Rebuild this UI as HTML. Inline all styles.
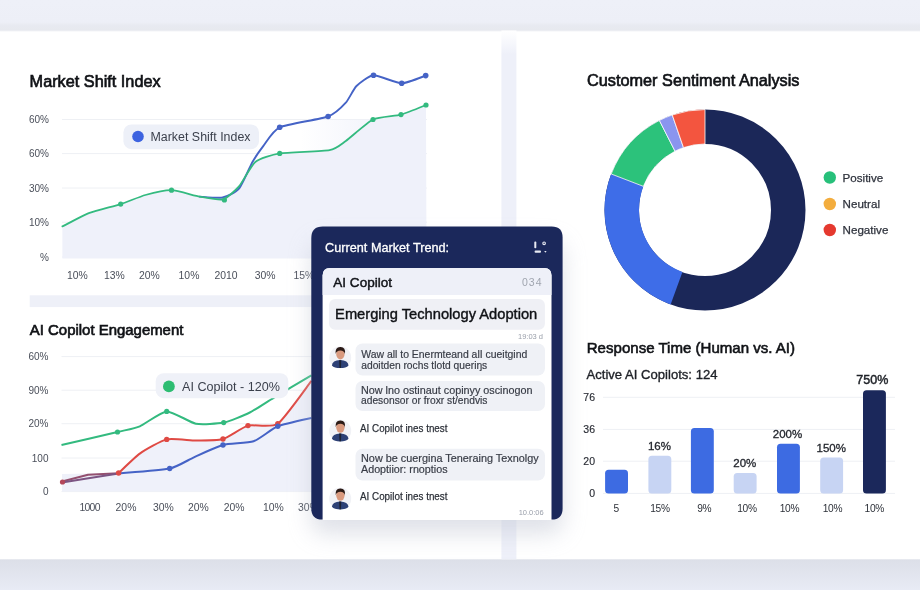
<!DOCTYPE html>
<html><head><meta charset="utf-8"><title>Dashboard</title>
<style>html,body{margin:0;padding:0;background:#fff;width:920px;height:590px;overflow:hidden}svg{display:block}</style>
</head><body>
<svg width="920" height="590" viewBox="0 0 920 590" font-family='"Liberation Sans", Arial, sans-serif'>
<defs><linearGradient id="shadow" x1="0" y1="0" x2="0" y2="1"><stop offset="0" stop-color="#dfe2ea" stop-opacity="0.9"/><stop offset="1" stop-color="#dfe2ea" stop-opacity="0"/></linearGradient><filter id="cardsh" x="-20%" y="-20%" width="140%" height="140%"><feGaussianBlur stdDeviation="11"/></filter></defs>
<rect width="920" height="590" fill="#ffffff"/>
<linearGradient id="topg" x1="0" y1="0" x2="0" y2="1"><stop offset="0" stop-color="#eef0f8"/><stop offset="0.7" stop-color="#edeff7"/><stop offset="0.8" stop-color="#e8eaf1"/><stop offset="0.95" stop-color="#e7e9ef"/><stop offset="1" stop-color="#f3f4f7"/></linearGradient>
<linearGradient id="botg" x1="0" y1="0" x2="0" y2="1"><stop offset="0" stop-color="#dcdfe8"/><stop offset="1" stop-color="#e8ebf5"/></linearGradient>
<linearGradient id="divg" x1="0" y1="0" x2="0" y2="1"><stop offset="0" stop-color="#ffffff"/><stop offset="0.045" stop-color="#eef0f9"/><stop offset="1" stop-color="#eef0f9"/></linearGradient>
<rect x="0" y="0" width="920" height="31.5" fill="url(#topg)"/>
<rect x="0" y="559.3" width="920" height="30.700000000000045" fill="url(#botg)"/>
<rect x="501.4" y="30.5" width="15" height="528.8" fill="url(#divg)"/>
<rect x="29.7" y="295.3" width="471.7" height="11.8" fill="#eef0f8"/>
<text x="29.6" y="87.3" font-size="16" fill="#101216" stroke="#101216" stroke-width="0.65" textLength="131" lengthAdjust="spacingAndGlyphs" >Market Shift Index</text>
<line x1="62" y1="119.5" x2="427" y2="119.5" stroke="#eef0f4" stroke-width="1"/>
<line x1="62" y1="153.6" x2="427" y2="153.6" stroke="#eef0f4" stroke-width="1"/>
<line x1="62" y1="188.0" x2="427" y2="188.0" stroke="#eef0f4" stroke-width="1"/>
<line x1="62" y1="222.2" x2="427" y2="222.2" stroke="#eef0f4" stroke-width="1"/>
<line x1="62" y1="257.0" x2="427" y2="257.0" stroke="#eef0f4" stroke-width="1"/>
<path d="M62.4,226.4 C65.1,225.1 83.7,215.1 89.5,212.9 C95.3,210.7 115.1,205.9 120.7,204.1 C126.3,202.3 140.3,196.4 145.4,195.0 C150.5,193.6 166.1,190.0 171.5,190.2 C176.9,190.4 194.6,195.7 199.7,196.6 C204.8,197.5 218.8,200.5 222.7,199.5 C226.6,198.5 235.7,190.2 239.0,186.4 C242.3,182.7 251.2,165.3 255.3,162.0 C259.4,158.7 272.3,154.6 279.7,153.4 C287.1,152.2 322.9,151.4 329.5,150.2 C336.1,149.0 341.4,144.1 345.8,141.0 C350.2,137.9 367.5,122.1 373.0,119.5 C378.5,116.9 395.7,116.0 401.0,114.6 C406.3,113.1 423.5,106.0 426.0,105.0 L426.5,258.5 L62.4,258.5 Z" fill="#eff1fa"/>
<linearGradient id="fg2" x1="0" y1="0" x2="1" y2="0"><stop offset="0" stop-color="#f0f2fb" stop-opacity="0"/><stop offset="1" stop-color="#f0f2fb" stop-opacity="0.8"/></linearGradient>
<polygon points="300,152 329.5,150.2 345.8,141 373.0,119.5 300,119.5" fill="url(#fg2)"/>
<path d="M199.7,196.6 C202.0,196.7 218.8,198.3 222.7,197.5 C226.6,196.7 236.0,192.2 239.0,188.6 C242.0,185.0 250.1,166.3 252.5,162.0 C254.9,157.7 260.7,149.3 263.4,145.8 C266.1,142.3 273.2,130.2 279.7,127.3 C286.2,124.4 321.5,119.0 328.1,116.5 C334.7,114.0 343.0,105.8 345.8,102.7 C348.6,99.7 353.7,88.7 356.5,86.0 C359.3,83.3 369.0,75.6 373.5,75.3 C378.0,75.0 396.5,83.3 401.7,83.3 C406.9,83.3 423.3,76.4 425.7,75.6" fill="none" stroke="#4563c6" stroke-width="1.9" stroke-linejoin="round" stroke-linecap="round"/>
<path d="M62.4,226.4 C65.1,225.1 83.7,215.1 89.5,212.9 C95.3,210.7 115.1,205.9 120.7,204.1 C126.3,202.3 140.3,196.4 145.4,195.0 C150.5,193.6 166.1,190.0 171.5,190.2 C176.9,190.4 194.6,195.7 199.7,196.6 C204.8,197.5 218.8,200.5 222.7,199.5 C226.6,198.5 235.7,190.2 239.0,186.4 C242.3,182.7 251.2,165.3 255.3,162.0 C259.4,158.7 272.3,154.6 279.7,153.4 C287.1,152.2 322.9,151.4 329.5,150.2 C336.1,149.0 341.4,144.1 345.8,141.0 C350.2,137.9 367.5,122.1 373.0,119.5 C378.5,116.9 395.7,116.0 401.0,114.6 C406.3,113.1 423.5,106.0 426.0,105.0" fill="none" stroke="#33ba7f" stroke-width="1.8" stroke-linejoin="round" stroke-linecap="round"/>
<circle cx="120.7" cy="204.1" r="2.6" fill="#33ba7f"/>
<circle cx="171.5" cy="190.2" r="2.6" fill="#33ba7f"/>
<circle cx="224.4" cy="200" r="2.6" fill="#33ba7f"/>
<circle cx="279.7" cy="153.4" r="2.6" fill="#33ba7f"/>
<circle cx="373.0" cy="119.5" r="2.6" fill="#33ba7f"/>
<circle cx="401.0" cy="114.6" r="2.6" fill="#33ba7f"/>
<circle cx="426.0" cy="105.0" r="2.6" fill="#33ba7f"/>
<circle cx="279.7" cy="127.3" r="2.8" fill="#4563c6"/>
<circle cx="328.1" cy="116.5" r="2.8" fill="#4563c6"/>
<circle cx="373.5" cy="75.3" r="2.8" fill="#4563c6"/>
<circle cx="401.7" cy="83.3" r="2.8" fill="#4563c6"/>
<circle cx="425.7" cy="75.6" r="2.8" fill="#4563c6"/>
<rect x="123.4" y="124.4" width="135.6" height="24.8" rx="8" fill="#edf0f8"/>
<circle cx="138" cy="136.5" r="5.8" fill="#3d63e0"/>
<text x="150.5" y="141.2" font-size="12.5" fill="#3a3f4b" textLength="100" lengthAdjust="spacingAndGlyphs" >Market Shift Index</text>
<text x="49" y="123.1" font-size="10" fill="#4a4f5a" text-anchor="end" >60%</text>
<text x="49" y="157.2" font-size="10" fill="#4a4f5a" text-anchor="end" >60%</text>
<text x="49" y="191.6" font-size="10" fill="#4a4f5a" text-anchor="end" >30%</text>
<text x="49" y="225.79999999999998" font-size="10" fill="#4a4f5a" text-anchor="end" >10%</text>
<text x="49" y="260.6" font-size="10" fill="#4a4f5a" text-anchor="end" >%</text>
<text x="67" y="278.8" font-size="10.4" fill="#4a4f5a" >10%</text>
<text x="104" y="278.8" font-size="10.4" fill="#4a4f5a" >13%</text>
<text x="139" y="278.8" font-size="10.4" fill="#4a4f5a" >20%</text>
<text x="178.6" y="278.8" font-size="10.4" fill="#4a4f5a" >10%</text>
<text x="214.5" y="278.8" font-size="10.4" fill="#4a4f5a" >2010</text>
<text x="254.7" y="278.8" font-size="10.4" fill="#4a4f5a" >30%</text>
<text x="293.4" y="278.8" font-size="10.4" fill="#4a4f5a" >15%</text>
<text x="29.8" y="335" font-size="15.2" fill="#101216" stroke="#101216" stroke-width="0.65" textLength="153.6" lengthAdjust="spacingAndGlyphs" >AI Copilot Engagement</text>
<line x1="61.5" y1="356.6" x2="320" y2="356.6" stroke="#eef0f4" stroke-width="1"/>
<line x1="61.5" y1="390.2" x2="320" y2="390.2" stroke="#eef0f4" stroke-width="1"/>
<line x1="61.5" y1="423.7" x2="320" y2="423.7" stroke="#eef0f4" stroke-width="1"/>
<line x1="61.5" y1="458" x2="320" y2="458" stroke="#eef0f4" stroke-width="1"/>
<line x1="61.5" y1="491.6" x2="320" y2="491.6" stroke="#eef0f4" stroke-width="1"/>
<polygon points="62,474 118.6,473 118.6,473 139.8,453.6 166.7,439.4 195.8,440.5 223,439 248,425.6 277.8,423.7 311.4,380.9 311.4,491.6 62,491.6" fill="#eff1fa"/>
<path d="M61.5,445 C67.1,443.7 109.7,433.9 117.5,432.0 C125.3,430.1 134.9,428.4 139.8,426.3 C144.7,424.2 161.1,411.7 166.7,411.4 C172.3,411.1 190.1,422.6 195.8,423.7 C201.5,424.8 218.3,423.7 223.7,422.6 C229.1,421.5 244.8,415.0 249.8,412.5 C254.8,410.0 267.8,401.3 274.0,397.6 C280.2,393.9 307.7,377.5 311.4,375.3" fill="none" stroke="#33ba7f" stroke-width="2" stroke-linejoin="round"/>
<path d="M118.6,473 C120.7,471.1 135.0,457.0 139.8,453.6 C144.6,450.2 161.1,440.7 166.7,439.4 C172.3,438.1 190.2,440.5 195.8,440.5 C201.4,440.5 217.8,440.5 223.0,439.0 C228.2,437.5 242.5,427.1 248.0,425.6 C253.5,424.1 271.5,428.2 277.8,423.7 C284.1,419.2 308.0,385.2 311.4,380.9" fill="none" stroke="#df4a44" stroke-width="2" stroke-linejoin="round"/>
<path d="M118.6,473.5 C123.7,473.0 162.2,470.1 169.7,468.5 C177.2,466.9 188.6,459.7 193.9,457.3 C199.2,454.9 217.0,446.6 223.0,445.0 C229.0,443.4 248.1,443.2 253.6,441.3 C259.1,439.4 272.0,428.6 277.8,426.3 C283.6,424.0 308.0,418.8 311.4,418.0" fill="none" stroke="#4563c6" stroke-width="2" stroke-linejoin="round"/>
<path d="M62,481.5 L88,474.8 L118.6,473.2" fill="none" stroke="#94506f" stroke-width="2" stroke-linejoin="round" stroke-linecap="round"/>
<path d="M62,482.5 L90,478 L118.6,473.6" fill="none" stroke="#7c5583" stroke-width="2" stroke-linejoin="round" stroke-linecap="round"/>
<circle cx="62.5" cy="482" r="2.6" fill="#b4475a"/>
<circle cx="117.5" cy="432" r="2.6" fill="#33ba7f"/>
<circle cx="166.7" cy="411.4" r="2.6" fill="#33ba7f"/>
<circle cx="223.7" cy="422.6" r="2.6" fill="#33ba7f"/>
<circle cx="118.6" cy="473" r="2.7" fill="#df4a44"/>
<circle cx="166.7" cy="439.4" r="2.7" fill="#df4a44"/>
<circle cx="223" cy="439" r="2.7" fill="#df4a44"/>
<circle cx="248" cy="425.6" r="2.7" fill="#df4a44"/>
<circle cx="277.8" cy="423.7" r="2.7" fill="#df4a44"/>
<circle cx="169.7" cy="468.5" r="2.7" fill="#4563c6"/>
<circle cx="223" cy="445" r="2.7" fill="#4563c6"/>
<circle cx="277.8" cy="426.3" r="2.7" fill="#4563c6"/>
<rect x="155.7" y="373.2" width="132.6" height="25" rx="8" fill="#eff1f8"/>
<circle cx="168.9" cy="386.4" r="5.9" fill="#2ebd72"/>
<text x="182" y="391" font-size="13" fill="#3a3f4b" textLength="98" lengthAdjust="spacingAndGlyphs" >AI Copilot - 120%</text>
<text x="48.5" y="360.20000000000005" font-size="10" fill="#4a4f5a" text-anchor="end" >60%</text>
<text x="48.5" y="393.8" font-size="10" fill="#4a4f5a" text-anchor="end" >90%</text>
<text x="48.5" y="427.3" font-size="10" fill="#4a4f5a" text-anchor="end" >20%</text>
<text x="48.5" y="461.6" font-size="10" fill="#4a4f5a" text-anchor="end" >100</text>
<text x="48.5" y="495.20000000000005" font-size="10" fill="#4a4f5a" text-anchor="end" >0</text>
<text x="79.4" y="511.3" font-size="10.4" fill="#4a4f5a" letter-spacing="-0.7" >1000</text>
<text x="115.6" y="511.3" font-size="10.4" fill="#4a4f5a" >20%</text>
<text x="152.9" y="511.3" font-size="10.4" fill="#4a4f5a" >30%</text>
<text x="188" y="511.3" font-size="10.4" fill="#4a4f5a" >20%</text>
<text x="223.7" y="511.3" font-size="10.4" fill="#4a4f5a" >20%</text>
<text x="262.9" y="511.3" font-size="10.4" fill="#4a4f5a" >10%</text>
<text x="298" y="511.3" font-size="10.4" fill="#4a4f5a" >30%</text>
<circle cx="705" cy="210" r="83.25" fill="none" stroke="#1b2758" stroke-width="34.5"/>
<path d="M670.63,304.44 A100.5,100.5 0 0 1 611.18,173.98 L643.38,186.35 A66,66 0 0 0 682.43,272.02 Z" fill="#3e6de8" stroke="#fff" stroke-width="0"/>
<path d="M611.18,173.98 A100.5,100.5 0 0 1 659.37,120.45 L675.04,151.19 A66,66 0 0 0 643.38,186.35 Z" fill="#2cc27b" stroke="#fff" stroke-width="0.8"/>
<path d="M659.37,120.45 A100.5,100.5 0 0 1 672.28,114.98 L683.51,147.60 A66,66 0 0 0 675.04,151.19 Z" fill="#8a95ef" stroke="#fff" stroke-width="0.8"/>
<path d="M672.28,114.98 A100.5,100.5 0 0 1 705.00,109.50 L705.00,144.00 A66,66 0 0 0 683.51,147.60 Z" fill="#f3553f" stroke="#fff" stroke-width="0.8"/>
<text x="587" y="85.75" font-size="16.2" fill="#101216" stroke="#101216" stroke-width="0.65" textLength="212.5" lengthAdjust="spacingAndGlyphs" >Customer Sentiment Analysis</text>
<circle cx="829.8" cy="177.5" r="6.2" fill="#27c07a"/>
<text x="842.6" y="181.7" font-size="11.6" fill="#2f333d" stroke="#2f333d" stroke-width="0.25" >Positive</text>
<circle cx="829.8" cy="204" r="6.2" fill="#f3ad3e"/>
<text x="842.6" y="208.2" font-size="11.6" fill="#2f333d" stroke="#2f333d" stroke-width="0.25" >Neutral</text>
<circle cx="829.8" cy="230" r="6.2" fill="#e5392f"/>
<text x="842.6" y="234.2" font-size="11.6" fill="#2f333d" stroke="#2f333d" stroke-width="0.25" >Negative</text>
<text x="586.75" y="353" font-size="15.4" fill="#101216" stroke="#101216" stroke-width="0.6" textLength="208.3" lengthAdjust="spacingAndGlyphs" >Response Time (Human vs. AI)</text>
<text x="586.5" y="378.75" font-size="13" fill="#1e2127" stroke="#1e2127" stroke-width="0.35" textLength="131" lengthAdjust="spacingAndGlyphs" >Active AI Copilots: 124</text>
<line x1="603" y1="397.3" x2="895" y2="397.3" stroke="#eef0f4" stroke-width="1"/>
<line x1="603" y1="429.4" x2="895" y2="429.4" stroke="#eef0f4" stroke-width="1"/>
<line x1="603" y1="461.2" x2="895" y2="461.2" stroke="#eef0f4" stroke-width="1"/>
<line x1="603" y1="493.4" x2="895" y2="493.4" stroke="#eef0f4" stroke-width="1"/>
<text x="595" y="400.90000000000003" font-size="10.5" fill="#2a2d35" text-anchor="end" stroke="#2a2d35" stroke-width="0.15" >76</text>
<text x="595" y="433.0" font-size="10.5" fill="#2a2d35" text-anchor="end" stroke="#2a2d35" stroke-width="0.15" >36</text>
<text x="595" y="464.8" font-size="10.5" fill="#2a2d35" text-anchor="end" stroke="#2a2d35" stroke-width="0.15" >20</text>
<text x="595" y="497.0" font-size="10.5" fill="#2a2d35" text-anchor="end" stroke="#2a2d35" stroke-width="0.15" >0</text>
<rect x="605.1" y="469.7" width="22.9" height="23.9" rx="3.5" fill="#3d6be2"/>
<rect x="648.4" y="455.7" width="22.9" height="37.9" rx="3.5" fill="#c7d4f3"/>
<rect x="690.9" y="428" width="22.9" height="65.6" rx="3.5" fill="#3d6be2"/>
<rect x="733.7" y="473" width="22.9" height="20.6" rx="3.5" fill="#c7d4f3"/>
<rect x="777" y="443.8" width="22.9" height="49.8" rx="3.5" fill="#3d6be2"/>
<rect x="820.2" y="457.5" width="22.9" height="36.1" rx="3.5" fill="#c7d4f3"/>
<rect x="863" y="390.2" width="22.9" height="103.4" rx="3.5" fill="#1b285b"/>
<text x="659.4" y="449.8" font-size="11.5" fill="#23262d" text-anchor="middle" stroke="#23262d" stroke-width="0.3" >16%</text>
<text x="744.8" y="467" font-size="11.5" fill="#23262d" text-anchor="middle" stroke="#23262d" stroke-width="0.3" >20%</text>
<text x="787.5" y="437.6" font-size="11.5" fill="#23262d" text-anchor="middle" stroke="#23262d" stroke-width="0.3" >200%</text>
<text x="831.3" y="451.6" font-size="11.5" fill="#23262d" text-anchor="middle" stroke="#23262d" stroke-width="0.3" >150%</text>
<text x="872.3" y="383.6" font-size="12.5" fill="#1d2026" text-anchor="middle" stroke="#1d2026" stroke-width="0.45" >750%</text>
<text x="616.3" y="511.5" font-size="10.2" fill="#2d3139" text-anchor="middle" letter-spacing="-0.3" >5</text>
<text x="660" y="511.5" font-size="10.2" fill="#2d3139" text-anchor="middle" letter-spacing="-0.3" >15%</text>
<text x="704.3" y="511.5" font-size="10.2" fill="#2d3139" text-anchor="middle" letter-spacing="-0.3" >9%</text>
<text x="747" y="511.5" font-size="10.2" fill="#2d3139" text-anchor="middle" letter-spacing="-0.3" >10%</text>
<text x="789.5" y="511.5" font-size="10.2" fill="#2d3139" text-anchor="middle" letter-spacing="-0.3" >10%</text>
<text x="832.5" y="511.5" font-size="10.2" fill="#2d3139" text-anchor="middle" letter-spacing="-0.3" >10%</text>
<text x="874.3" y="511.5" font-size="10.2" fill="#2d3139" text-anchor="middle" letter-spacing="-0.3" >10%</text>
<rect x="311" y="242" width="252" height="292" rx="14" fill="#c5c9d6" opacity="0.55" filter="url(#cardsh)"/>
<path d="M311.3,238 Q311.3,226.5 322.8,226.5 H551.6 Q562.6,226.5 562.6,237.5 V508.5 Q562.6,519.6 551.6,519.6 H322.3 Q311.3,519.6 311.3,508.5 Z" fill="#1b285b"/>
<text x="325.1" y="252.1" font-size="12.5" fill="#ffffff" stroke="#ffffff" stroke-width="0.3" textLength="124" lengthAdjust="spacingAndGlyphs" >Current Market Trend:</text>
<g fill="#e8eaf2"><rect x="534.3" y="241.6" width="2" height="6.6" rx="0.8"/><rect x="534.6" y="250.6" width="6.4" height="2.1" rx="0.9"/><circle cx="544.1" cy="243.3" r="1.3" fill="none" stroke="#e8eaf2" stroke-width="1.1"/><path d="M544.2,251 L546.6,251 L545.4,252.8 Z"/></g>
<path d="M322.6,520 V275.6 Q322.6,268 330,268 H544.3 Q551.5,268 551.5,275.6 V520 Z" fill="#ffffff"/>
<path d="M322.6,295 V275.6 Q322.6,268 330,268 H544.3 Q551.5,268 551.5,275.6 V295 Z" fill="#eef0f8"/>
<text x="333.3" y="286.8" font-size="13.5" fill="#111318" stroke="#111318" stroke-width="0.45" textLength="58.7" lengthAdjust="spacingAndGlyphs" >AI Copilot</text>
<text x="542.5" y="285.6" font-size="10.5" fill="#a0a5af" text-anchor="end" letter-spacing="1.0" >034</text>
<rect x="329.1" y="299.1" width="215.8" height="30.6" rx="6" fill="#eff0f5"/>
<text x="335.1" y="318.7" font-size="14.7" fill="#101216" stroke="#101216" stroke-width="0.4" textLength="202.2" lengthAdjust="spacingAndGlyphs" >Emerging Technology Adoption</text>
<text x="543" y="339" font-size="7.5" fill="#9ba0ab" text-anchor="end" >19:03 d</text>
<rect x="355.5" y="343.5" width="189.5" height="32.0" rx="7" fill="#eff1f6"/>
<rect x="355.5" y="381" width="189.5" height="30" rx="7" fill="#eff1f6"/>
<rect x="355.5" y="448.75" width="189.5" height="31.75" rx="7" fill="#eff1f6"/>
<text x="361.25" y="357.5" font-size="11.4" fill="#383c46" stroke="#383c46" stroke-width="0.2" textLength="166" lengthAdjust="spacingAndGlyphs" >Waw all to Enermteand alI cueitgind</text>
<text x="361.25" y="368.5" font-size="11.4" fill="#383c46" stroke="#383c46" stroke-width="0.2" textLength="126" lengthAdjust="spacingAndGlyphs" >adoitden rochs tlotd queriŋs</text>
<text x="361" y="393.5" font-size="11.4" fill="#383c46" stroke="#383c46" stroke-width="0.2" textLength="171.5" lengthAdjust="spacingAndGlyphs" >Now lno ostinaut copinyy oscinogon</text>
<text x="361" y="404.3" font-size="11.4" fill="#383c46" stroke="#383c46" stroke-width="0.2" textLength="126.5" lengthAdjust="spacingAndGlyphs" >adesonsor or froxr st/endvis</text>
<text x="360" y="432" font-size="11.4" fill="#2c3038" stroke="#2c3038" stroke-width="0.25" textLength="87.5" lengthAdjust="spacingAndGlyphs" >AI Copilot ines tnest</text>
<text x="361" y="461.8" font-size="11.4" fill="#383c46" stroke="#383c46" stroke-width="0.2" textLength="177.7" lengthAdjust="spacingAndGlyphs" >Now be cuergina Teneraing Texnolgy</text>
<text x="361" y="473" font-size="11.4" fill="#383c46" stroke="#383c46" stroke-width="0.2" textLength="86.5" lengthAdjust="spacingAndGlyphs" >Adoptiior: rnoptios</text>
<text x="360" y="500" font-size="11.4" fill="#2c3038" stroke="#2c3038" stroke-width="0.25" textLength="87.5" lengthAdjust="spacingAndGlyphs" >AI Copilot ines tnest</text>
<text x="543.7" y="515" font-size="7.5" fill="#9ba0ab" text-anchor="end" >10.0:06</text>
<g><circle cx="340.2" cy="357.5" r="11" fill="#f1f2f6"/><path d="M331.9,365.5 Q332.2,360.5 340.2,360.1 Q348.2,360.5 348.5,365.5 Q346.2,368.1 340.2,368.1 Q334.2,368.1 331.9,365.5 Z" fill="#2d4176"/><path d="M339.09999999999997,360.3 L341.3,360.3 L340.9,368.0 L339.5,368.0 Z" fill="#1b2133"/><ellipse cx="340.4" cy="353.9" rx="4.2" ry="5.6" fill="#d99a7f"/><path d="M335.59999999999997,354.0 Q335.0,346.9 340.4,347.1 Q345.8,346.9 345.0,354.0 Q344.2,350.7 340.4,350.5 Q336.4,350.7 335.59999999999997,354.0 Z" fill="#2b1a16"/></g>
<g><circle cx="340.2" cy="430.8" r="11" fill="#f1f2f6"/><path d="M331.9,438.8 Q332.2,433.8 340.2,433.40000000000003 Q348.2,433.8 348.5,438.8 Q346.2,441.40000000000003 340.2,441.40000000000003 Q334.2,441.40000000000003 331.9,438.8 Z" fill="#2d4176"/><path d="M339.09999999999997,433.6 L341.3,433.6 L340.9,441.3 L339.5,441.3 Z" fill="#1b2133"/><ellipse cx="340.4" cy="427.2" rx="4.2" ry="5.6" fill="#d99a7f"/><path d="M335.59999999999997,427.3 Q335.0,420.2 340.4,420.40000000000003 Q345.8,420.2 345.0,427.3 Q344.2,424.0 340.4,423.8 Q336.4,424.0 335.59999999999997,427.3 Z" fill="#2b1a16"/></g>
<g><circle cx="340.2" cy="498.8" r="11" fill="#f1f2f6"/><path d="M331.9,506.8 Q332.2,501.8 340.2,501.40000000000003 Q348.2,501.8 348.5,506.8 Q346.2,509.40000000000003 340.2,509.40000000000003 Q334.2,509.40000000000003 331.9,506.8 Z" fill="#2d4176"/><path d="M339.09999999999997,501.6 L341.3,501.6 L340.9,509.3 L339.5,509.3 Z" fill="#1b2133"/><ellipse cx="340.4" cy="495.2" rx="4.2" ry="5.6" fill="#d99a7f"/><path d="M335.59999999999997,495.3 Q335.0,488.2 340.4,488.40000000000003 Q345.8,488.2 345.0,495.3 Q344.2,492.0 340.4,491.8 Q336.4,492.0 335.59999999999997,495.3 Z" fill="#2b1a16"/></g>
</svg>
</body></html>
